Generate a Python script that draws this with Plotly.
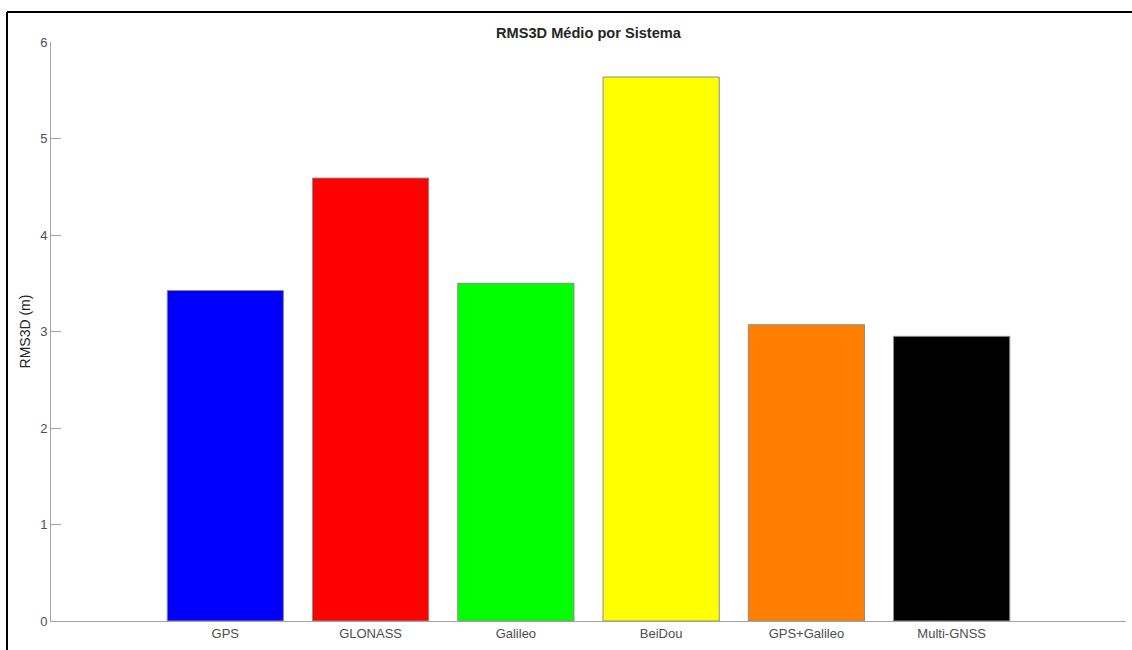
import plotly.graph_objects as go

# Mean 3D RMS error per GNSS constellation
sistemas = ["GPS", "GLONASS", "Galileo", "BeiDou", "GPS+Galileo", "Multi-GNSS"]
rms3d = [3.425, 4.59, 3.50, 5.637, 3.07, 2.95]
cores = ["#0000ff", "#ff0000", "#00ff00", "#ffff00", "#ff8000", "#000000"]
y_ticks = [0, 1, 2, 3, 4, 5, 6]

W, H = 1132, 650
ML, MR, MT, MB = 51, 6, 42, 29
pw, ph = W - ML - MR, H - MT - MB

posicoes = list(range(1, len(sistemas) + 1))

fig = go.Figure(
    go.Bar(
        x=posicoes,
        y=rms3d,
        width=0.8,
        marker=dict(color=cores, line=dict(color="#8c8c8c", width=1)),
        hoverinfo="x+y",
    )
)

axis_col = "#a3a3a3"
text_col = "#4d4d4d"
font_family = "Liberation Sans, Arial, sans-serif"

# figure frame edges (left and top), in paper coordinates
fx0 = (7 - ML) / pw
fx1 = (W - ML) / pw
fy0 = -MB / ph
fy1 = 1 + (MT - 12) / ph
frame = dict(color="black", width=2)

fig.update_layout(
    width=W,
    height=H,
    margin=dict(l=ML, r=MR, t=MT, b=MB),
    paper_bgcolor="white",
    plot_bgcolor="white",
    showlegend=False,
    font=dict(family=font_family, size=13, color=text_col),
    title=dict(
        text="<b>RMS3D Médio por Sistema</b>",
        x=(ML + pw / 2) / W,
        xanchor="center",
        y=1 - 33 / H,
        yanchor="middle",
        font=dict(size=14.6, color="#262626", family=font_family),
    ),
    xaxis=dict(
        range=[-0.2, 7.2],
        tickmode="array",
        tickvals=posicoes,
        ticktext=sistemas,
        ticks="",
        showgrid=False,
        zeroline=False,
        showline=True,
        linecolor=axis_col,
        linewidth=1,
        tickfont=dict(size=13, color=text_col),
    ),
    yaxis=dict(
        range=[0, 6],
        tickmode="array",
        tickvals=y_ticks,
        ticktext=[str(v) for v in y_ticks],
        ticks="inside",
        ticklen=10,
        tickcolor=axis_col,
        showgrid=False,
        zeroline=False,
        showline=True,
        linecolor=axis_col,
        linewidth=1,
        tickfont=dict(size=13, color=text_col),
        title=dict(text="RMS3D (m)", font=dict(size=14, color="#262626"), standoff=6),
    ),
    shapes=[
        dict(type="line", xref="paper", yref="paper",
             x0=fx0, x1=fx0, y0=fy0, y1=fy1, line=frame, layer="above"),
        dict(type="line", xref="paper", yref="paper",
             x0=fx0, x1=fx1, y0=fy1, y1=fy1, line=frame, layer="above"),
    ],
)

# keep the page free of scrollbars
no_scroll = (
    "document.documentElement.style.overflow='hidden';"
    "document.body.style.overflow='hidden';"
    "document.body.style.margin='0';"
)

fig.write_html("out.html", config={"displayModeBar": False}, post_script=no_scroll)
